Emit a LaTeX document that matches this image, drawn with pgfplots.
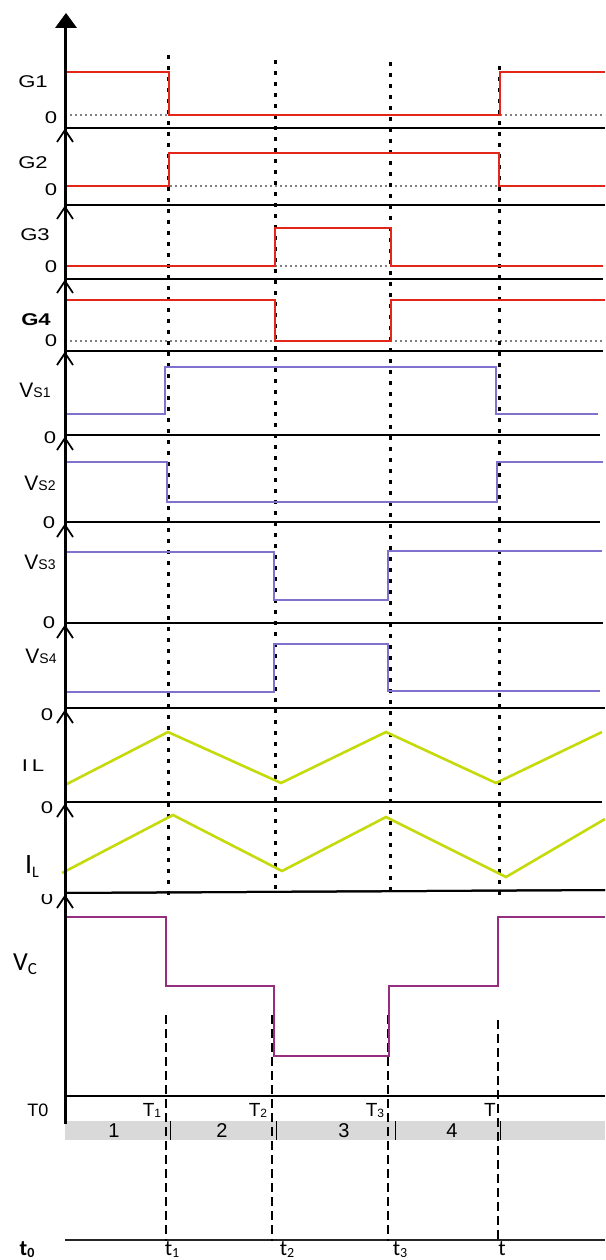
\documentclass[border=0pt]{standalone}
\usepackage{pgfplots}
\pgfplotsset{compat=1.18}
\usepackage{fontspec}
\setmainfont{Liberation Sans}
\newfontfamily\calf{Carlito}
\definecolor{gred}{HTML}{E32619}
\definecolor{vpurp}{HTML}{8270CF}
\definecolor{ilgreen}{HTML}{C5DA0A}
\definecolor{vcmag}{HTML}{962E80}
\definecolor{barg}{HTML}{D9D9D9}
\newcommand{\fs}[1]{\fontsize{#1}{#1}\selectfont}
\newcommand{\wide}[1]{\scalebox{1.3}[1]{#1}}
\begin{document}
\begin{tikzpicture}[
  sig/.style={line width=2.6pt, line join=miter},
  base/.style={black, line width=2pt},
  zdot/.style={gray, line width=1.2pt, dash pattern=on 2pt off 3pt},
  vdot/.style={black, line width=3pt, dash pattern=on 4pt off 7pt},
  vdash/.style={black, line width=2.2pt, dash pattern=on 9pt off 5pt},
  chev/.style={black, line width=1.8pt},
  lab/.style={inner sep=0pt, font=\fs{17}}]
\begin{axis}[name=main, hide axis, scale only axis, width=605pt, height=1260pt,
  xmin=0, xmax=605, ymin=0, ymax=1260, y dir=reverse, clip=false]
% gray bar
\addplot[fill=barg, draw=none] coordinates {(65,1121) (605,1121) (605,1140) (65,1140)} --cycle;
\addplot[black, line width=1pt] coordinates {(170,1121) (170,1140)};
\addplot[black, line width=1pt] coordinates {(276,1121) (276,1140)};
\addplot[black, line width=1pt] coordinates {(395,1121) (395,1140)};
\addplot[black, line width=1pt] coordinates {(500,1121) (500,1140)};
% zero dotted lines
\addplot[zdot] coordinates {(65,115) (605,115)};
\addplot[zdot] coordinates {(65,186) (605,186)};
\addplot[zdot] coordinates {(65,266) (603,266)};
\addplot[zdot] coordinates {(65,341) (603,341)};
% baselines
\addplot[base] coordinates {(65,128) (605,128)};
\addplot[base] coordinates {(65,205) (605,205)};
\addplot[base] coordinates {(65,279) (603,279)};
\addplot[base] coordinates {(65,351) (603,351)};
\addplot[base] coordinates {(65,435) (600,435)};
\addplot[base] coordinates {(65,522) (600,522)};
\addplot[base] coordinates {(65,623) (603,623)};
\addplot[base] coordinates {(65,708) (605,708)};
\addplot[base] coordinates {(65,802) (602,802)};
\addplot[base] coordinates {(65,893) (605,890)};
\addplot[black, line width=1.2pt] coordinates {(65,1096) (605,1096)};
\addplot[black!85, line width=1.5pt] coordinates {(65,1240) (605,1240)};
% dotted verticals
\addplot[vdot] coordinates {(168,55) (168,895)};
\addplot[vdot] coordinates {(275,60) (275,890)};
\addplot[vdot] coordinates {(390,62) (390,890)};
\addplot[vdot] coordinates {(499,66) (499,895)};
% dashed verticals
\addplot[vdash] coordinates {(166,1015) (166,1241)};
\addplot[vdash] coordinates {(272,1015) (272,1241)};
\addplot[vdash] coordinates {(388,1015) (388,1241)};
\addplot[vdash] coordinates {(498,1020) (498,1242)};
% gate signals
\addplot[sig, gred] coordinates {(65,72) (169,72) (169,115) (500,115) (500,72) (605,72)};
\addplot[sig, gred] coordinates {(65,186) (169,186) (169,153) (499,153) (499,186) (605,186)};
\addplot[sig, gred] coordinates {(65,266) (275,266) (275,228) (391,228) (391,266) (603,266)};
\addplot[sig, gred] coordinates {(65,300) (275,300) (275,341) (391,341) (391,300) (605,300)};
% switch voltages
\addplot[sig, vpurp] coordinates {(65,414) (165,414) (165,367) (496,367) (496,414) (598,414)};
\addplot[sig, vpurp] coordinates {(65,462) (167,462) (167,502) (497,502) (497,462) (603,462)};
\addplot[sig, vpurp] coordinates {(65,552) (274,552) (274,600) (388,600) (388,551) (602,551)};
\addplot[sig, vpurp] coordinates {(65,692) (274,692) (274,644) (388,644) (388,691) (600,691)};
% inductor currents
\addplot[sig, ilgreen] coordinates {(65,785) (168,732) (281,783) (386,732) (496,783) (602,732)};
\addplot[sig, ilgreen] coordinates {(62,873) (173,815) (282,871) (386,817) (506,877) (605,819)};
% capacitor voltage
\addplot[sig, vcmag] coordinates {(65,917) (166,917) (166,986) (274,986) (274,1056) (389,1056) (389,986) (498,986) (498,917) (605,917)};
% main axis and arrow
\addplot[black, line width=3pt] coordinates {(65,27) (65,1124)};
\addplot[fill=black, draw=none] coordinates {(55,28) (66,13) (77,28)} --cycle;
% clipped zero
\node[lab] at (axis cs:47,899) {\wide{0}};
\addplot[fill=white, draw=none] coordinates {(36,880) (60,880) (60,894) (36,894)} --cycle;
\addplot[base] coordinates {(65,893) (605,890)};
% chevrons
\addplot[chev] coordinates {(57,142) (65,130) (73,142)};
\addplot[chev] coordinates {(57,219) (65,207) (73,219)};
\addplot[chev] coordinates {(57,293) (65,281) (73,293)};
\addplot[chev] coordinates {(57,365) (65,353) (73,365)};
\addplot[chev] coordinates {(57,450) (65,438) (73,450)};
\addplot[chev] coordinates {(57,537) (65,525) (73,537)};
\addplot[chev] coordinates {(57,638) (65,626) (73,638)};
\addplot[chev] coordinates {(57,723) (65,711) (73,723)};
\addplot[chev] coordinates {(57,817) (65,805) (73,817)};
\addplot[chev] coordinates {(57,908) (65,896) (73,908)};
% labels
\node[lab] at (axis cs:33,82) {\wide{G1}};
\node[lab] at (axis cs:51,118) {\wide{0}};
\node[lab] at (axis cs:33,163) {\wide{G2}};
\node[lab] at (axis cs:51,190) {\wide{0}};
\node[lab] at (axis cs:35,235) {\wide{G3}};
\node[lab] at (axis cs:51,267) {\wide{0}};
\node[lab, font=\fs{17}\bfseries] at (axis cs:36,320) {\wide{G4}};
\node[lab] at (axis cs:51,341) {\wide{0}};
\node[lab, anchor=base] at (axis cs:35,397) {\fs{21}V\fs{14}S1};
\node[lab] at (axis cs:50,438) {\wide{0}};
\node[lab, anchor=base] at (axis cs:40,490) {\fs{21}V\fs{14}S2};
\node[lab] at (axis cs:49,523) {\wide{0}};
\node[lab, anchor=base] at (axis cs:40,569) {\fs{21}V\fs{14}S3};
\node[lab] at (axis cs:49,623) {\wide{0}};
\node[lab, anchor=base] at (axis cs:41,663) {\fs{21}V\fs{14}S4};
\node[lab] at (axis cs:47,715) {\wide{0}};
\node[lab] at (axis cs:33,766) {\wide{I\,L}};
\node[lab] at (axis cs:47,808) {\wide{0}};
\node[lab, anchor=base, font=\calf\fs{28}] at (axis cs:32,873) {I\raisebox{-4pt}{\fs{16}L}};
\node[lab, anchor=base, font=\calf\fs{26}] at (axis cs:25,970) {V\raisebox{-4pt}{\fs{17}C}};
\node[lab, anchor=base] at (axis cs:38,1116) {\fs{18}T0};
\node[lab, anchor=base] at (axis cs:152,1116) {\fs{19}T\raisebox{-1pt}{\fs{12}1}};
\node[lab, anchor=base] at (axis cs:258,1116) {\fs{19}T\raisebox{-1pt}{\fs{12}2}};
\node[lab, anchor=base] at (axis cs:375,1116) {\fs{19}T\raisebox{-1pt}{\fs{12}3}};
\node[lab, anchor=base] at (axis cs:490,1116) {\fs{19}T};
\node[lab, font=\fs{20}] at (axis cs:114,1131) {1};
\node[lab, font=\fs{20}] at (axis cs:222,1131) {2};
\node[lab, font=\fs{20}] at (axis cs:344,1131) {3};
\node[lab, font=\fs{20}] at (axis cs:452,1131) {4};
\node[lab, anchor=base, font=\calf\fs{22}\bfseries] at (axis cs:27,1255) {t\raisebox{-2pt}{\fs{14}0}};
\node[lab, anchor=base, font=\calf\fs{22}] at (axis cs:172,1255) {t\raisebox{-2pt}{\fs{14}1}};
\node[lab, anchor=base, font=\calf\fs{22}] at (axis cs:287,1255) {t\raisebox{-2pt}{\fs{14}2}};
\node[lab, anchor=base, font=\calf\fs{22}] at (axis cs:400,1255) {t\raisebox{-2pt}{\fs{14}3}};
\node[lab, anchor=base, font=\calf\fs{22}] at (axis cs:502,1255) {t};
\end{axis}
\pgfresetboundingbox
\path (main.south west) rectangle (main.north east);
\end{tikzpicture}
\end{document}
